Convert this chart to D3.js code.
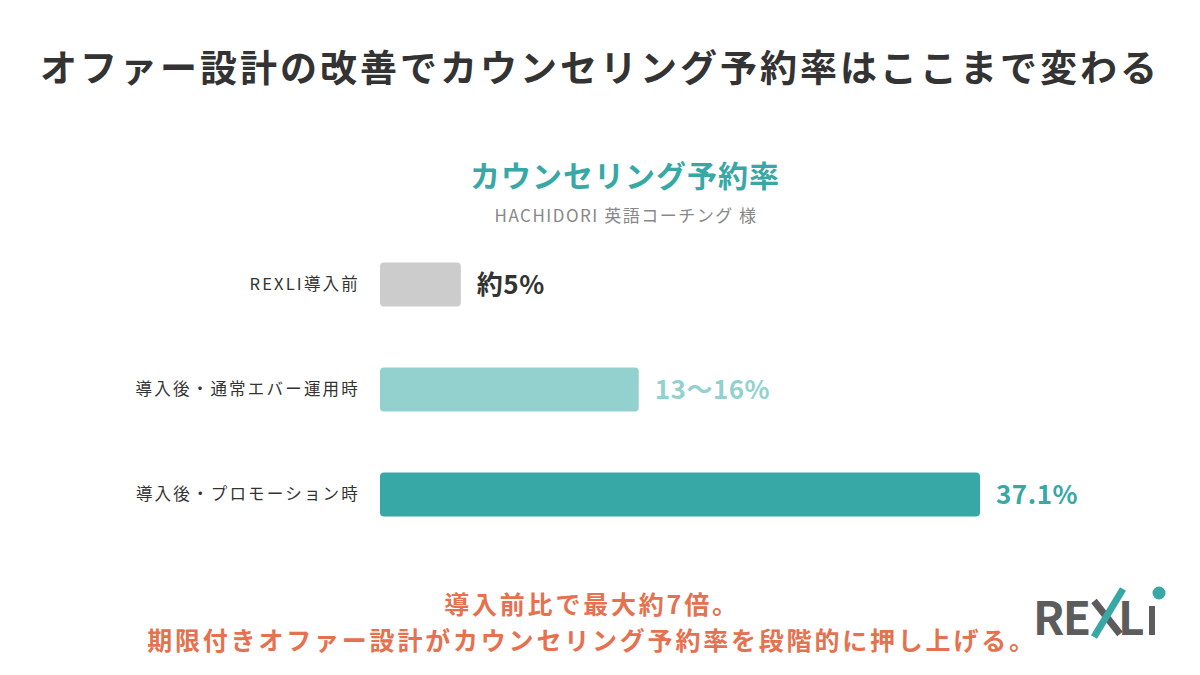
<!DOCTYPE html>
<html>
<head>
<meta charset="utf-8">
<script src="https://cdn.jsdelivr.net/npm/d3@7"></script>
<style>
  body { margin: 0; background: #fff; }
  text { font-family: "Noto Sans CJK JP", "Noto Sans", sans-serif; }
</style>
</head>
<body>
<script>
// data
var categories = ['REXLI導入前', '導入後・通常エバー運用時', '導入後・プロモーション時'];
var values = [5, 16, 37.1];
var valueLabels = ['約5%', '13〜16%', '37.1%'];
var barColors = ['#cccccc', '#92d1cd', '#37a8a5'];
var labelColors = ['#333333', '#92d1cd', '#37a8a5'];

var width = 1200;
var height = 675;
var svg = d3.select('body').append('svg')
  .attr('width', width)
  .attr('height', height);

// title
svg.append('text')
  .attr('x', 600).attr('y', 82)
  .attr('text-anchor', 'middle')
  .attr('font-size', 37).attr('font-weight', 700)
  .attr('letter-spacing', 3)
  .style('fill', '#333')
  .text('オファー設計の改善でカウンセリング予約率はここまで変わる');

svg.append('text')
  .attr('x', 625).attr('y', 187)
  .attr('text-anchor', 'middle')
  .attr('font-size', 30).attr('font-weight', 700)
  .attr('letter-spacing', 1)
  .style('fill', '#37a8a5')
  .text('カウンセリング予約率');

svg.append('text')
  .attr('x', 626).attr('y', 222)
  .attr('text-anchor', 'middle')
  .attr('font-size', 17)
  .attr('letter-spacing', 1.5)
  .style('fill', '#888')
  .text('HACHIDORI 英語コーチング 様');

// scales
var x = d3.scaleLinear().domain([0, 37.1]).range([0, 600]);
var y = d3.scaleBand().domain(categories).range([232, 547]).paddingInner(0.58).paddingOuter(0.29);
var x0 = 380;

var rows = svg.selectAll('g.row').data(categories)
  .enter().append('g').attr('class', 'row');

rows.append('rect')
  .attr('x', x0)
  .attr('y', function(d){ return y(d); })
  .attr('width', function(d, i){ return x(values[i]); })
  .attr('height', y.bandwidth())
  .attr('rx', 4)
  .style('fill', function(d, i){ return barColors[i]; });

rows.append('text')
  .attr('x', 360)
  .attr('y', function(d){ return y(d) + y.bandwidth() / 2; })
  .attr('dy', '0.35em')
  .attr('text-anchor', 'end')
  .attr('font-size', 16.5)
  .attr('letter-spacing', 2.2)
  .style('fill', '#333')
  .text(function(d){ return d; });

rows.append('text')
  .attr('x', function(d, i){ return x0 + x(values[i]) + 16; })
  .attr('y', function(d){ return y(d) + y.bandwidth() / 2; })
  .attr('dy', '0.35em')
  .attr('font-size', 26).attr('font-weight', 700)
  .attr('letter-spacing', 0.5)
  .style('fill', function(d, i){ return labelColors[i]; })
  .text(function(d, i){ return valueLabels[i]; });

// bottom message
svg.append('text')
  .attr('x', 592).attr('y', 614)
  .attr('text-anchor', 'middle')
  .attr('font-size', 25).attr('font-weight', 700)
  .attr('letter-spacing', 2.8)
  .style('fill', '#e5714f')
  .text('導入前比で最大約7倍。');

svg.append('text')
  .attr('x', 592).attr('y', 650)
  .attr('text-anchor', 'middle')
  .attr('font-size', 25).attr('font-weight', 700)
  .attr('letter-spacing', 2.8)
  .style('fill', '#e5714f')
  .text('期限付きオファー設計がカウンセリング予約率を段階的に押し上げる。');

// logo
var logo = svg.append('g');
logo.append('text')
  .attr('x', 1033).attr('y', 635)
  .attr('font-size', 46).attr('font-weight', 700)
  .attr('font-family', '"DejaVu Sans", sans-serif')
  .style('fill', '#5c5c5c')
  .attr('textLength', 58)
  .text('RE');
logo.append('line')
  .attr('x1', 1094).attr('y1', 601).attr('x2', 1120).attr('y2', 634)
  .style('stroke', '#5c5c5c').style('stroke-width', 7);
logo.append('line')
  .attr('x1', 1094).attr('y1', 637).attr('x2', 1123).attr('y2', 589)
  .style('stroke', '#37a8a5').style('stroke-width', 7);
logo.append('text')
  .attr('x', 1118).attr('y', 635)
  .attr('font-size', 46).attr('font-weight', 700)
  .attr('font-family', '"DejaVu Sans", sans-serif')
  .style('fill', '#5c5c5c')
  .attr('textLength', 25)
  .text('L');
logo.append('rect')
  .attr('x', 1149).attr('y', 606).attr('width', 6).attr('height', 29)
  .style('fill', '#5c5c5c');
logo.append('circle')
  .attr('cx', 1159).attr('cy', 593).attr('r', 6.5)
  .style('fill', '#37a8a5');
</script>
</body>
</html>
